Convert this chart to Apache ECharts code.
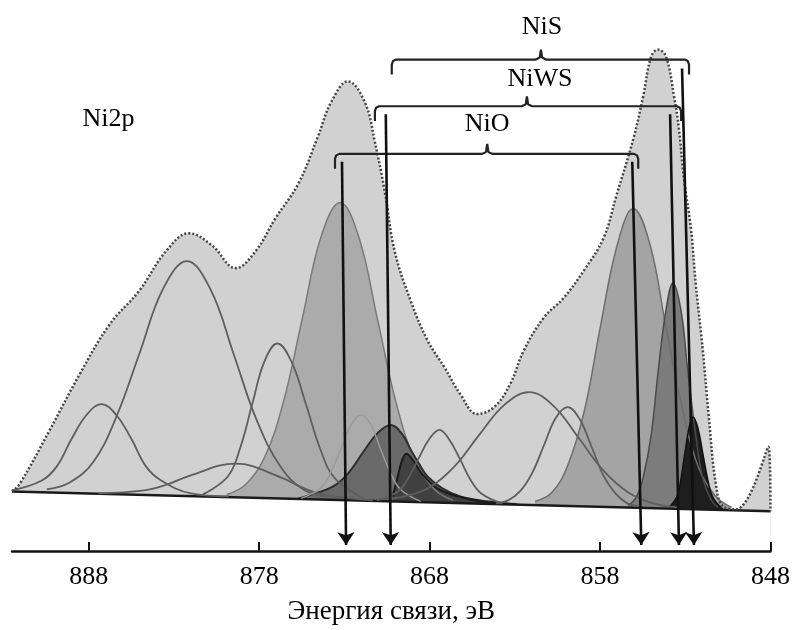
<!DOCTYPE html>
<html>
<head>
<meta charset="utf-8">
<title>Ni2p</title>
<script src="https://cdn.jsdelivr.net/npm/echarts@6/dist/echarts.min.js"></script>
<style>
html, body { margin: 0; padding: 0; background: #fff; }
#chart { width: 793px; height: 630px; }
</style>
</head>
<body>
<div id="chart"></div>
<script>
// binding energy ticks, eV
const xTicks = [888, 878, 868, 858, 848];

// sloped background line
const baseline = [[892.5, 60], [848, 40]];

// measured envelope (dotted)
const envelope = [[892.50,60],[892.03,68],[890.28,122],[888.53,178],[886.78,228],[885.04,262],[883.46,302],[882.12,320],[880.78,308],[879.38,285],[878.21,302],[877.05,335],[875.70,370],[874.54,418],[873.78,452],[872.79,473],[871.80,452],[871.21,412],[870.63,362],[870.05,302],[869.11,252],[868.12,212],[867.13,185],[866.20,158],[865.21,138],[864.21,145],[863.28,168],[862.47,202],[861.30,235],[860.13,255],[858.97,282],[857.80,315],[857.04,358],[856.05,415],[855.47,458],[855.00,498],[854.59,505],[854.13,498],[853.66,458],[853.37,425],[853.08,375],[852.67,325],[852.38,268],[851.97,202],[851.62,135],[851.21,68],[850.80,45],[850.04,42],[848.12,105],[848.00,40]];

// fitted components, outline only
const fitA = [[892.50,61],[890.75,71],[889.88,85],[889.00,113],[888.13,137],[887.25,148],[886.38,137],[885.50,113],[884.63,85],[883.75,71],[882.00,58],[879.79,55]];
const fitB = [[890.46,62],[889.12,69],[887.72,90],[886.38,135],[884.98,201],[883.64,264],[882.24,292],[880.84,263],[879.49,198],[878.15,132],[876.75,85],[875.41,62],[874.01,55]];
const fitC = [[881.30,57],[879.84,75],[879.09,105],[878.39,149],[877.69,191],[876.93,209],[876.11,191],[875.24,147],[874.42,103],[873.55,73],[871.85,53]];
const fitD = [[887.43,58],[884.74,61],[883.40,67],[882.06,76],[879.38,88],[876.70,74],[875.35,63],[874.01,56],[871.33,51]];
const fitF = [[875.53,53],[874.36,64],[873.78,80],[873.20,103],[872.61,127],[872.03,137],[871.45,127],[870.86,102],[870.28,78],[869.70,62],[868.53,50]];
const fitI = [[871.10,51],[869.87,60],[869.23,74],[868.65,93],[868.01,113],[867.42,122],[866.84,112],[866.20,92],[865.61,72],[864.97,58],[863.75,48]];
const fitJ = [[870.92,52],[869.46,55],[868.01,64],[866.55,85],[865.09,117],[863.63,147],[862.17,160],[860.72,146],[859.26,114],[857.80,81],[856.34,59],[854.88,48],[853.43,44]];
const fitK = [[864.10,48],[863.40,51],[862.70,60],[862.00,78],[861.30,106],[860.60,134],[859.90,145],[859.20,133],[858.50,105],[857.80,76],[857.10,58],[856.40,48],[855.70,45]];

// fitted components, filled
const fitE = [[879.90,57],[878.79,67],[877.69,94],[876.58,150],[875.47,234],[874.36,317],[873.25,351],[872.15,316],[871.04,232],[869.93,147],[868.82,90],[867.71,62],[866.61,51]];
const fitG = [[875.70,53],[874.71,58],[873.66,65],[872.79,78],[871.80,102],[871.04,119],[870.28,127],[869.58,117],[869.11,102],[868.59,87],[868.12,75],[867.25,63],[866.20,55],[864.62,50],[862.87,47]];
const fitH = [[870.16,55],[869.87,75],[869.58,93],[869.35,98],[869.00,92],[868.41,77],[867.54,63],[866.37,55],[864.62,49],[862.29,46]];
const fitL = [[861.82,50],[860.83,59],[859.90,86],[858.91,142],[857.97,227],[856.98,309],[856.05,345],[855.06,308],[854.13,225],[853.13,140],[852.20,83],[851.21,55],[850.28,44]];
const fitM = [[856.34,46],[855.88,54],[855.47,74],[855.00,117],[854.59,181],[854.13,243],[853.72,270],[853.25,242],[852.84,180],[852.38,116],[851.97,73],[851.50,52],[851.09,44]];
const fitN = [[853.95,44],[853.48,55],[853.25,73],[853.02,99],[852.78,124],[852.55,135],[852.26,124],[851.97,98],[851.68,72],[851.38,54],[850.80,42]];

// arrows: top and bottom ends
const arrowTop = [[873.14,392],[870.57,440],[856.11,392],[853.89,440],[853.19,486]];
const arrowBottom = [[872.90,6],[870.28,6],[855.58,6],[853.37,6],[852.49,6]];

// brackets: NiO, NiWS, NiS
const bracketLevel = [400, 448, 495];
const bracketLeft = [873.55, 871.21, 870.22];
const bracketRight = [855.76, 853.25, 852.78];
const bracketMid = [864.62, 862.29, 861.47];

// text annotations
const labelNames = ['Ni2p', 'NiO', 'NiWS', 'NiS'];
const labelPos = [[886.84,435],[864.62,430],[861.53,475],[861.41,528]];

const FONT = '"Liberation Serif", "DejaVu Serif", serif';

function fitLine(data, color, width, fill, z) {
  const s = {
    type: 'line', data: data, smooth: 0.4, symbol: 'none', silent: true, z: z,
    lineStyle: { color: color, width: width }
  };
  if (fill) s.areaStyle = { color: fill, opacity: 1 };
  return s;
}

function bracket(left, right, mid, y) {
  return [
    [left, y - 15], [left, y - 5], [left - 0.07, y - 1.5], [left - 0.25, y],
    [mid + 0.3, y], [mid + 0.07, y + 2], [mid, y + 10], [mid - 0.07, y + 2], [mid - 0.3, y],
    [right + 0.25, y], [right + 0.07, y - 1.5], [right, y - 5], [right, y - 15]
  ];
}

const chart = echarts.init(document.getElementById('chart'));

const series = [
  // envelope fill
  fitLine(envelope, 'rgba(0,0,0,0)', 0, '#d1d1d1', 1),
  // filled components
  fitLine(fitE, '#7a7a7a', 1.5, '#ababab', 2),
  fitLine(fitL, '#6e6e6e', 1.5, '#a4a4a4', 2),
  fitLine(fitG, '#2e2e2e', 2, '#6a6a6a', 2),
  fitLine(fitH, '#1a1a1a', 2, '#404040', 2),
  fitLine(fitM, '#4a4a4a', 1.5, '#7c7c7c', 2),
  fitLine(fitN, '#111111', 1.5, '#1e1e1e', 2),
  // white below background line
  {
    type: 'line', data: baseline, symbol: 'none', silent: true, z: 3,
    lineStyle: { color: '#1a1a1a', width: 2.5 },
    areaStyle: { color: '#ffffff', opacity: 1 }
  },
  // outline components
  fitLine(fitA, '#5e5e5e', 1.8, null, 4),
  fitLine(fitB, '#5e5e5e', 1.8, null, 4),
  fitLine(fitC, '#5e5e5e', 1.8, null, 4),
  fitLine(fitD, '#5e5e5e', 1.8, null, 4),
  fitLine(fitF, '#9a9a9a', 1.5, null, 4),
  fitLine(fitI, '#5e5e5e', 1.8, null, 4),
  fitLine(fitJ, '#5e5e5e', 1.8, null, 4),
  fitLine(fitK, '#5e5e5e', 1.8, null, 4),
  // envelope dotted outline
  {
    type: 'line', data: envelope, smooth: 0.4, symbol: 'none', silent: true, z: 5,
    lineStyle: { color: '#444', width: 2.5, type: [2, 2] }
  },
  // brackets
  ...bracketLevel.map((y, i) => ({
    type: 'line', data: bracket(bracketLeft[i], bracketRight[i], bracketMid[i], y),
    symbol: 'none', silent: true, z: 7, clip: false,
    lineStyle: { color: '#222', width: 2.2 }
  })),
  // arrows
  {
    type: 'lines', coordinateSystem: 'cartesian2d', silent: true, z: 8,
    symbol: ['none', 'arrow'], symbolSize: 13,
    lineStyle: { color: '#111', width: 2.6, opacity: 1 },
    data: arrowTop.map((t, i) => ({ coords: [t, arrowBottom[i]] }))
  },
  // text
  {
    type: 'scatter', silent: true, z: 9, clip: false, symbolSize: 1,
    itemStyle: { color: 'rgba(0,0,0,0)', opacity: 1 },
    data: labelPos.map((p, i) => ({ value: p, name: labelNames[i] })),
    label: {
      show: true, position: 'inside', formatter: '{b}',
      fontFamily: FONT, fontSize: 26, color: '#000',
      textBorderWidth: 0, opacity: 1
    }
  }
];

chart.setOption({
  animation: false,
  backgroundColor: '#fff',
  grid: { left: 12, right: 18, top: 0, bottom: 75 },
  xAxis: {
    type: 'value', inverse: true, min: 848, max: 892.5, z: 10,
    name: 'Энергия связи, эВ', nameLocation: 'middle', nameGap: 47,
    nameTextStyle: { fontFamily: FONT, fontSize: 27, color: '#000' },
    axisLine: { lineStyle: { color: '#111', width: 2.5 } },
    axisTick: { show: true, inside: true, length: 9, lineStyle: { color: '#111', width: 2 }, customValues: xTicks },
    axisLabel: { fontFamily: FONT, fontSize: 26, color: '#000', margin: 13, customValues: xTicks },
    splitLine: { show: false }
  },
  yAxis: {
    type: 'value', min: 0, max: 555, show: false,
    splitLine: { show: false }
  },
  series: series
});
</script>
</body>
</html>
